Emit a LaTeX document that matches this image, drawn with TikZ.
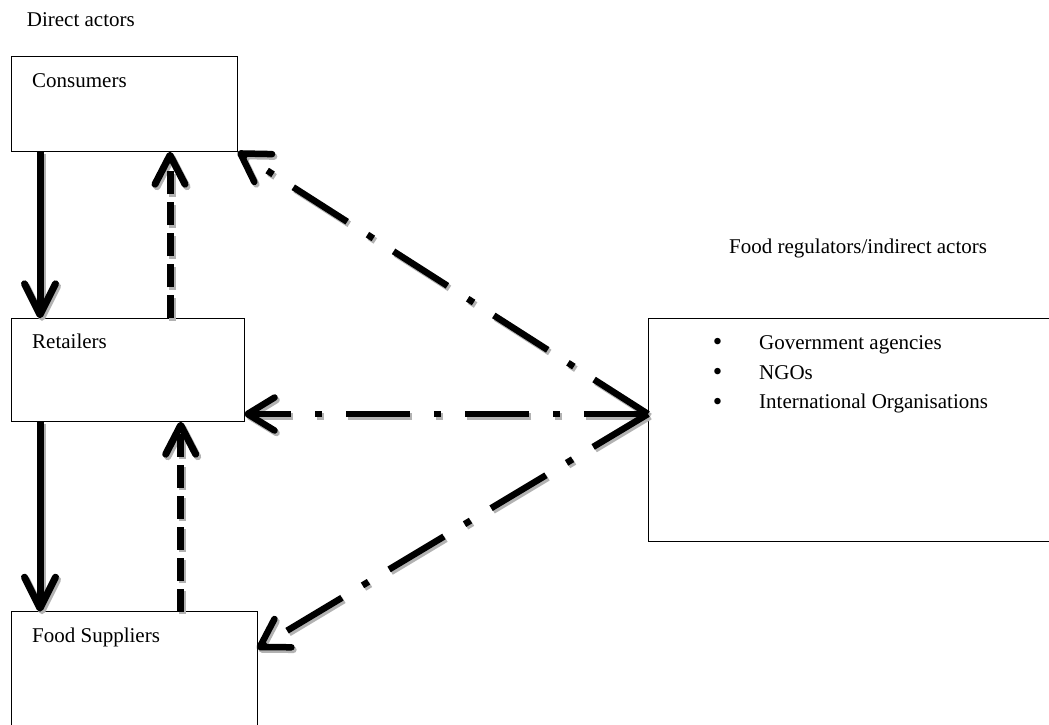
\documentclass[tikz,border=0pt]{standalone}
\usepackage{fontspec}
\setmainfont{Liberation Serif}
\usetikzlibrary{arrows.meta,calc}
\begin{document}
\begin{tikzpicture}[x=1pt,y=-1pt,
  box/.style={draw=black,line width=0.9pt,inner sep=0pt,outer sep=0pt,anchor=north west,fill=white},
  txt/.style={inner sep=0pt,anchor=base west,font=\fontsize{21pt}{29.5pt}\selectfont},
  bul/.style={inner sep=0pt,anchor=base,font=\fontsize{27pt}{29.5pt}\selectfont},
  shade/.style={draw=gray!60,transform canvas={shift={(2pt,-2.5pt)}}},
  solidarrow/.style={line width=7pt,-{Straight Barb[length=31pt,width=31pt,round]}},
  vdash/.style={line width=7pt,dash pattern=on 23pt off 8pt,-{Straight Barb[length=29pt,width=30pt,round]}},
  ddash/.style={line width=6.5pt,dash pattern=on 64pt off 24pt on 7pt off 24pt,-{Straight Barb[length=27pt,width=33pt,round]}}
]
\useasboundingbox (0,0) rectangle (1049,724);
\clip (0,0) rectangle (1049,724);
\fill[white] (0,0) rectangle (1049,724);

% boxes
\node[box,minimum width=226pt,minimum height=95.7pt] (cons) at (11.7,56) {};
\node[box,minimum width=232.6pt,minimum height=103.4pt] (ret) at (11.7,318.3) {};
\node[box,minimum width=245.3pt,minimum height=140pt] (sup) at (11.7,611.7) {};
\node[box,minimum width=412pt,minimum height=223pt] (reg) at (648,318) {};

% texts
\node[txt] (tdirect) at (26.7,26.7) {Direct actors};
\node[txt] (tcons) at (32,87) {Consumers};
\node[txt] (tret) at (32,348.5) {Retailers};
\node[txt] (tsup) at (32,642) {Food Suppliers};
\node[txt] (treg) at (729,253) {Food regulators/indirect actors};
\node[bul] (b1) at (717.7,350.5) {•};
\node[bul] (b2) at (717.7,380) {•};
\node[bul] (b3) at (717.7,410) {•};
\node[txt] (l1) at (759,349) {Government agencies};
\node[txt] (l2) at (759,379) {NGOs};
\node[txt] (l3) at (759,408.5) {International Organisations};

\coordinate (hub) at ([yshift=15.5pt]reg.west);

% shadows
\draw[solidarrow,shade] ([xshift=28.3pt]cons.south west) -- ([xshift=28.3pt]ret.north west);
\draw[solidarrow,shade] ([xshift=28.3pt]ret.south west) -- ([xshift=28.3pt]sup.north west);
\draw[vdash,shade] ([xshift=158.3pt]ret.north west) -- ([xshift=158.3pt]cons.south west);
\draw[vdash,shade] ([xshift=169pt]sup.north west) -- ([xshift=169pt]ret.south west);
\draw[ddash,shade] (hub) -- (cons.south east);
\draw[ddash,shade] (hub) -- (hub -| ret.east);
\draw[ddash,shade] (hub) -- ([yshift=-37pt]sup.north east);

% solid arrows
\draw[solidarrow] ([xshift=28.3pt]cons.south west) -- ([xshift=28.3pt]ret.north west);
\draw[solidarrow] ([xshift=28.3pt]ret.south west) -- ([xshift=28.3pt]sup.north west);

% vertical dashed arrows
\draw[vdash] ([xshift=158.3pt]ret.north west) -- ([xshift=158.3pt]cons.south west);
\draw[vdash] ([xshift=169pt]sup.north west) -- ([xshift=169pt]ret.south west);

% dash-dot arrows from regulators
\draw[ddash] (hub) -- (cons.south east);
\draw[ddash] (hub) -- (hub -| ret.east);
\draw[ddash] (hub) -- ([yshift=-37pt]sup.north east);
\end{tikzpicture}
\end{document}
